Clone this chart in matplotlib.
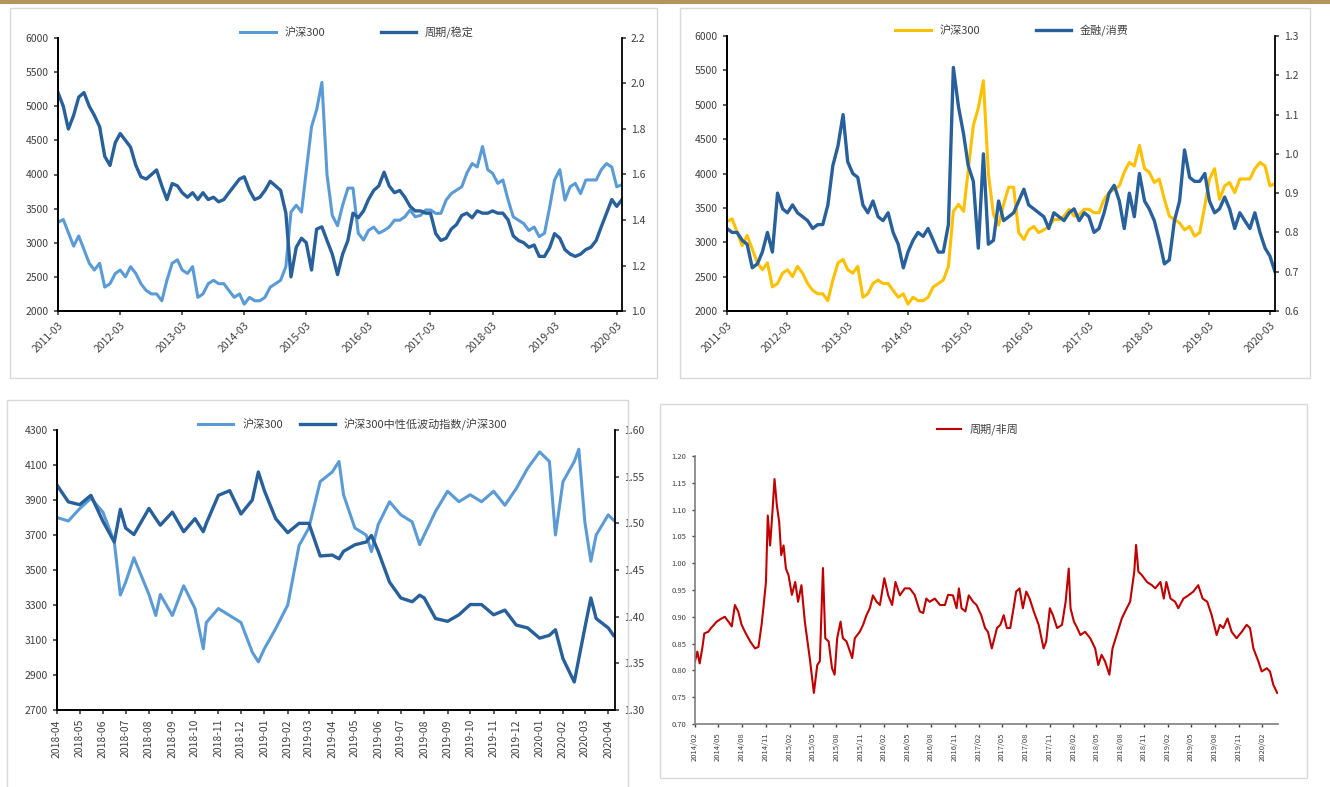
import pandas as pd
import matplotlib
matplotlib.use("Agg")
import matplotlib.pyplot as plt
import matplotlib.dates as mdates
from matplotlib.patches import Rectangle
from matplotlib.ticker import FormatStrFormatter

plt.rcParams['font.family'] = ['Noto Sans CJK SC', 'DejaVu Sans']

LIGHT = '#5b9bd5'
DARK = '#27609a'
GOLD = '#ffc000'
RED = '#c00000'
TXT = '#404040'

# ---- top panels: month-start values, 2011-03 .. 2020-04 ----
month_start = '2011-03-01'
hs300_m = [3300, 3340, 3150, 2950, 3100, 2900, 2700, 2600, 2700, 2350,
           2400, 2550, 2600, 2500, 2650, 2550, 2400, 2300, 2250, 2250, 2150, 2450,
           2700, 2750, 2600, 2550, 2650, 2200, 2250, 2400, 2450, 2400, 2400, 2300,
           2200, 2250, 2100, 2200, 2150, 2150, 2200, 2350, 2400, 2450, 2650, 3450,
           3550, 3450, 4050, 4700, 4950, 5350, 4000, 3400, 3250, 3550, 3800, 3800,
           3140, 3040, 3180, 3230, 3140, 3180, 3230, 3330, 3330, 3380, 3480, 3380,
           3400, 3480, 3480, 3430, 3430, 3625, 3720, 3770, 3820, 4020, 4160, 4110,
           4410, 4070, 4020, 3870, 3920, 3625, 3380, 3330, 3280, 3180, 3230, 3090,
           3140, 3530, 3920, 4070, 3625, 3820, 3870, 3720, 3920, 3920, 3920, 4070,
           4160, 4110, 3820, 3850]
cyc_stable = [1.96, 1.90, 1.80, 1.86, 1.94, 1.96, 1.90, 1.86, 1.81, 1.68,
              1.64, 1.74, 1.78, 1.75, 1.72, 1.64, 1.59, 1.58, 1.60, 1.62, 1.55, 1.49,
              1.56, 1.55, 1.52, 1.50, 1.52, 1.49, 1.52, 1.49, 1.50, 1.48, 1.49, 1.52,
              1.55, 1.58, 1.59, 1.53, 1.49, 1.50, 1.53, 1.57, 1.55, 1.53, 1.43, 1.15,
              1.28, 1.32, 1.30, 1.18, 1.36, 1.37, 1.31, 1.25, 1.16, 1.25, 1.31, 1.43,
              1.41, 1.44, 1.49, 1.53, 1.55, 1.61, 1.55, 1.52, 1.53, 1.50, 1.46, 1.44,
              1.44, 1.43, 1.43, 1.34, 1.31, 1.32, 1.36, 1.38, 1.42, 1.43, 1.41, 1.44,
              1.43, 1.43, 1.44, 1.43, 1.43, 1.40, 1.33, 1.31, 1.30, 1.28, 1.29, 1.24,
              1.24, 1.28, 1.34, 1.32, 1.27, 1.25, 1.24, 1.25, 1.27, 1.28, 1.31, 1.37,
              1.43, 1.49, 1.46, 1.49]
fin_cons = [0.81, 0.80, 0.80, 0.78, 0.77, 0.71, 0.72, 0.75, 0.80, 0.75,
            0.90, 0.86, 0.85, 0.87, 0.85, 0.84, 0.83, 0.81, 0.82, 0.82, 0.87, 0.97,
            1.02, 1.10, 0.98, 0.95, 0.94, 0.87, 0.85, 0.88, 0.84, 0.83, 0.85, 0.80,
            0.77, 0.71, 0.75, 0.78, 0.80, 0.79, 0.81, 0.78, 0.75, 0.75, 0.82, 1.22,
            1.12, 1.05, 0.97, 0.93, 0.76, 1.00, 0.77, 0.78, 0.88, 0.83, 0.84, 0.85,
            0.88, 0.91, 0.87, 0.86, 0.85, 0.84, 0.81, 0.85, 0.84, 0.83, 0.85, 0.86,
            0.83, 0.85, 0.84, 0.80, 0.81, 0.85, 0.90, 0.92, 0.88, 0.81, 0.90, 0.84,
            0.95, 0.88, 0.86, 0.83, 0.78, 0.72, 0.73, 0.83, 0.88, 1.01, 0.94, 0.93,
            0.93, 0.95, 0.88, 0.85, 0.86, 0.89, 0.86, 0.81, 0.85, 0.83, 0.81, 0.85,
            0.80, 0.76, 0.74, 0.70]

# ---- bottom-left panel: 2018-04 .. 2020-04 ----
dates3 = ['2018-04-01', '2018-04-16', '2018-05-01', '2018-05-16', '2018-06-01', '2018-06-16',
          '2018-06-24', '2018-07-01', '2018-07-12', '2018-08-01', '2018-08-10', '2018-08-16',
          '2018-09-01', '2018-09-16', '2018-10-01', '2018-10-12', '2018-10-16', '2018-11-01',
          '2018-11-16', '2018-12-01', '2018-12-16', '2018-12-24', '2019-01-01', '2019-01-16',
          '2019-02-01', '2019-02-16', '2019-03-01', '2019-03-16', '2019-04-01', '2019-04-10',
          '2019-04-16', '2019-05-01', '2019-05-16', '2019-05-23', '2019-06-01', '2019-06-16',
          '2019-07-01', '2019-07-16', '2019-07-26', '2019-08-01', '2019-08-16', '2019-09-01',
          '2019-09-16', '2019-10-01', '2019-10-16', '2019-11-01', '2019-11-16', '2019-12-01',
          '2019-12-16', '2020-01-01', '2020-01-14', '2020-01-22', '2020-02-01', '2020-02-16',
          '2020-02-22', '2020-03-01', '2020-03-09', '2020-03-16', '2020-04-01', '2020-04-08']
hs300_d3 = [3800, 3780, 3850, 3910, 3830, 3660,
            3357, 3430, 3570, 3360, 3240, 3360,
            3240, 3410, 3280, 3050, 3200, 3280,
            3240, 3200, 3030, 2975, 3050, 3165,
            3300, 3640, 3740, 4005, 4060, 4120,
            3930, 3740, 3700, 3605, 3760, 3890,
            3815, 3775, 3645, 3700, 3835, 3950,
            3890, 3930, 3890, 3950, 3870, 3965,
            4080, 4175, 4120, 3700, 4005, 4120,
            4190, 3775, 3550, 3700, 3815, 3785]
lowvol_ratio = [1.541, 1.523, 1.520, 1.530, 1.502, 1.480,
                1.515, 1.495, 1.488, 1.516, 1.505, 1.498,
                1.512, 1.491, 1.505, 1.491, 1.500, 1.530,
                1.535, 1.510, 1.525, 1.555, 1.535, 1.505,
                1.490, 1.500, 1.500, 1.465, 1.466, 1.462,
                1.470, 1.477, 1.480, 1.487, 1.470, 1.437,
                1.420, 1.416, 1.423, 1.420, 1.398, 1.395,
                1.402, 1.413, 1.413, 1.402, 1.407, 1.391,
                1.388, 1.377, 1.380, 1.386, 1.355, 1.330,
                1.355, 1.388, 1.420, 1.398, 1.388, 1.380]

# ---- bottom-right panel: 2014-02 .. 2020-03 ----
dates4 = ['2014-02-01', '2014-02-10', '2014-02-19', '2014-03-01', '2014-03-09', '2014-03-24',
          '2014-04-04', '2014-04-26', '2014-05-15', '2014-05-27', '2014-06-10', '2014-06-23',
          '2014-07-05', '2014-07-18', '2014-07-31', '2014-08-13', '2014-09-02', '2014-09-21',
          '2014-10-04', '2014-10-16', '2014-10-23', '2014-11-02', '2014-11-09', '2014-11-18',
          '2014-11-27', '2014-12-05', '2014-12-14', '2014-12-23', '2014-12-31', '2015-01-09',
          '2015-01-18', '2015-01-28', '2015-02-10', '2015-02-23', '2015-03-06', '2015-03-19',
          '2015-04-01', '2015-04-20', '2015-05-06', '2015-05-19', '2015-05-29', '2015-06-10',
          '2015-06-19', '2015-07-02', '2015-07-15', '2015-07-25', '2015-08-04', '2015-08-17',
          '2015-08-26', '2015-09-09', '2015-10-01', '2015-10-11', '2015-10-30', '2015-11-12',
          '2015-11-25', '2015-12-08', '2015-12-20', '2016-01-03', '2016-01-16', '2016-02-02',
          '2016-02-17', '2016-03-03', '2016-03-16', '2016-04-02', '2016-04-21', '2016-05-10',
          '2016-05-29', '2016-06-18', '2016-07-01', '2016-07-13', '2016-07-26', '2016-08-15',
          '2016-09-04', '2016-09-23', '2016-10-05', '2016-10-24', '2016-11-07', '2016-11-16',
          '2016-11-26', '2016-12-11', '2016-12-24', '2017-01-10', '2017-01-23', '2017-02-10',
          '2017-02-25', '2017-03-08', '2017-03-23', '2017-04-12', '2017-04-25', '2017-05-08',
          '2017-05-20', '2017-06-02', '2017-06-15', '2017-06-25', '2017-07-08', '2017-07-21',
          '2017-08-03', '2017-08-16', '2017-09-01', '2017-09-20', '2017-10-09', '2017-10-19',
          '2017-11-02', '2017-11-14', '2017-11-30', '2017-12-19', '2018-01-02', '2018-01-14',
          '2018-01-21', '2018-02-03', '2018-02-16', '2018-02-28', '2018-03-18', '2018-04-07',
          '2018-04-26', '2018-05-08', '2018-05-21', '2018-06-03', '2018-06-20', '2018-07-02',
          '2018-07-18', '2018-08-07', '2018-08-26', '2018-09-08', '2018-09-24', '2018-10-01',
          '2018-10-10', '2018-10-23', '2018-11-12', '2018-12-01', '2018-12-14', '2019-01-03',
          '2019-01-16', '2019-01-26', '2019-02-11', '2019-03-01', '2019-03-13', '2019-04-02',
          '2019-04-21', '2019-05-10', '2019-05-29', '2019-06-15', '2019-07-03', '2019-07-20',
          '2019-08-08', '2019-08-21', '2019-09-03', '2019-09-19', '2019-10-05', '2019-10-24',
          '2019-11-13', '2019-12-02', '2019-12-15', '2019-12-28', '2020-01-16', '2020-01-29',
          '2020-02-18', '2020-03-01', '2020-03-14', '2020-03-29']
cyc_noncyc = [0.817, 0.835, 0.813, 0.841, 0.869, 0.872,
              0.879, 0.891, 0.897, 0.900, 0.891, 0.882,
              0.922, 0.910, 0.885, 0.872, 0.854, 0.841,
              0.844, 0.885, 0.916, 0.965, 1.089, 1.033,
              1.096, 1.157, 1.108, 1.077, 1.015, 1.033,
              0.990, 0.978, 0.941, 0.965, 0.928, 0.959,
              0.891, 0.823, 0.758, 0.810, 0.817, 0.991,
              0.860, 0.854, 0.804, 0.792, 0.860, 0.891,
              0.860, 0.854, 0.823, 0.860, 0.872, 0.885,
              0.903, 0.916, 0.940, 0.928, 0.922, 0.972,
              0.940, 0.922, 0.965, 0.940, 0.953, 0.953,
              0.941, 0.910, 0.907, 0.934, 0.928, 0.934,
              0.922, 0.922, 0.941, 0.940, 0.916, 0.953,
              0.916, 0.910, 0.940, 0.928, 0.922, 0.903,
              0.879, 0.872, 0.841, 0.879, 0.885, 0.903,
              0.879, 0.879, 0.916, 0.947, 0.953, 0.916,
              0.947, 0.934, 0.910, 0.885, 0.841, 0.854,
              0.916, 0.903, 0.879, 0.885, 0.928, 0.990,
              0.916, 0.891, 0.879, 0.866, 0.872, 0.860,
              0.841, 0.810, 0.829, 0.817, 0.792, 0.841,
              0.866, 0.897, 0.916, 0.928, 0.984, 1.034,
              0.984, 0.978, 0.965, 0.959, 0.953, 0.965,
              0.934, 0.965, 0.934, 0.928, 0.916, 0.934,
              0.940, 0.947, 0.959, 0.934, 0.928, 0.903,
              0.866, 0.885, 0.879, 0.897, 0.872, 0.860,
              0.872, 0.885, 0.879, 0.841, 0.817, 0.798,
              0.804, 0.798, 0.773, 0.758]

W, H = 1330, 787
fig = plt.figure(figsize=(W / 100, H / 100), dpi=100)


def px_axes(l, t, r, b):
    # rectangle given in pixel coords of the picture
    return fig.add_axes([l / W, 1 - b / H, (r - l) / W, (b - t) / H])


def px_box(l, t, r, b, color='#d9d9d9'):
    fig.add_artist(Rectangle((l / W, 1 - b / H), (r - l) / W, (b - t) / H,
                             transform=fig.transFigure, fill=False,
                             edgecolor=color, lw=1.0))


def style_spines(ax, right=False, color='black', lw=1.3):
    ax.spines['top'].set_visible(False)
    ax.spines['right'].set_visible(right)
    for s in ('left', 'bottom', 'right'):
        ax.spines[s].set_color(color)
        ax.spines[s].set_linewidth(lw)


# header bar and panel frames
fig.add_artist(Rectangle((0, 1 - 4 / H), 1, 4 / H, transform=fig.transFigure,
                         color='#b1945e', lw=0))
px_box(10, 8, 657, 378)
px_box(680, 8, 1310, 378)
px_box(7, 400, 628, 790)
px_box(660, 404, 1307, 778)

months = pd.date_range(month_start, periods=len(hs300_m), freq='MS')
year_ticks = pd.date_range('2011-03-01', '2020-03-01', freq='12MS')


def top_panel(box, left_color, right_vals, right_label, rlim, rstep, leg_x):
    ax = px_axes(*box)
    ax2 = ax.twinx()
    l1, = ax.plot(months, hs300_m, color=left_color, lw=2.2)
    l2, = ax2.plot(months, right_vals, color=DARK, lw=2.4)
    ax.set_ylim(2000, 6000)
    ax.set_yticks(range(2000, 6001, 500))
    ax2.set_ylim(*rlim)
    n = int(round((rlim[1] - rlim[0]) / rstep))
    ax2.set_yticks([rlim[0] + i * rstep for i in range(n + 1)])
    ax2.yaxis.set_major_formatter(FormatStrFormatter('%.1f'))
    ax.set_xlim(pd.Timestamp('2011-03-01'), pd.Timestamp('2020-04-01'))
    ax.set_xticks(year_ticks)
    ax.xaxis.set_major_formatter(mdates.DateFormatter('%Y-%m'))
    for lab in ax.get_xticklabels():
        lab.set_rotation(45)
        lab.set_ha('right')
        lab.set_rotation_mode('anchor')
    style_spines(ax)
    style_spines(ax2, right=True)
    ax.tick_params(labelsize=7.5, colors=TXT, length=3, width=1.2)
    ax2.tick_params(labelsize=7.5, colors=TXT, length=3, width=1.2)
    ax.legend([l1, l2], ['沪深300', right_label], loc='center',
              bbox_to_anchor=(leg_x, 1.02), ncol=2, frameon=False,
              fontsize=8, handlelength=3.2, columnspacing=5,
              labelcolor=TXT)
    return ax


top_panel((58, 38, 622, 311), LIGHT, cyc_stable, '周期/稳定', (1.0, 2.2), 0.2, 0.53)
top_panel((727, 36, 1275, 311), GOLD, fin_cons, '金融/消费', (0.6, 1.3), 0.1, 0.52)

# bottom-left
d3 = pd.to_datetime(dates3)
ax3 = px_axes(57, 430, 615, 710)
ax3b = ax3.twinx()
l1, = ax3.plot(d3, hs300_d3, color=LIGHT, lw=2.2)
l2, = ax3b.plot(d3, lowvol_ratio, color=DARK, lw=2.4)
ax3.set_ylim(2700, 4300)
ax3.set_yticks(range(2700, 4301, 200))
ax3b.set_ylim(1.30, 1.60)
ax3b.set_yticks([1.30, 1.35, 1.40, 1.45, 1.50, 1.55, 1.60])
ax3b.yaxis.set_major_formatter(FormatStrFormatter('%.2f'))
ax3.set_xlim(pd.Timestamp('2018-04-01'), pd.Timestamp('2020-04-10'))
ax3.set_xticks(pd.date_range('2018-04-01', '2020-04-01', freq='MS'))
ax3.xaxis.set_major_formatter(mdates.DateFormatter('%Y-%m'))
for lab in ax3.get_xticklabels():
    lab.set_rotation(90)
style_spines(ax3)
style_spines(ax3b, right=True)
ax3.tick_params(labelsize=7.5, colors=TXT, length=3, width=1.2)
ax3b.tick_params(labelsize=7.5, colors=TXT, length=3, width=1.2)
ax3.legend([l1, l2], ['沪深300', '沪深300中性低波动指数/沪深300'], loc='center',
           bbox_to_anchor=(0.53, 1.02), ncol=2, frameon=False, fontsize=8,
           handlelength=3.2, columnspacing=1.5, labelcolor=TXT)

# bottom-right
d4 = pd.to_datetime(dates4)
ax4 = px_axes(695, 456, 1278, 724)
l4, = ax4.plot(d4, cyc_noncyc, color=RED, lw=1.5)
ax4.set_ylim(0.70, 1.20)
ax4.set_yticks([0.70 + 0.05 * i for i in range(11)])
ax4.yaxis.set_major_formatter(FormatStrFormatter('%.2f'))
ax4.set_xlim(pd.Timestamp('2014-02-01'), pd.Timestamp('2020-04-01'))
ax4.set_xticks(pd.date_range('2014-02-01', '2020-02-01', freq='3MS'))
ax4.xaxis.set_major_formatter(mdates.DateFormatter('%Y/%m'))
for lab in ax4.get_xticklabels():
    lab.set_rotation(90)
style_spines(ax4, color='#7f7f7f', lw=1.2)
ax4.tick_params(labelsize=5.5, colors=TXT, length=2.5, width=1.0)
ax4.legend([l4], ['周期/非周'], loc='center', bbox_to_anchor=(0.485, 1.10),
           frameon=False, fontsize=8, handlelength=2.2, labelcolor=TXT)

fig.savefig('out.png', dpi=100)
